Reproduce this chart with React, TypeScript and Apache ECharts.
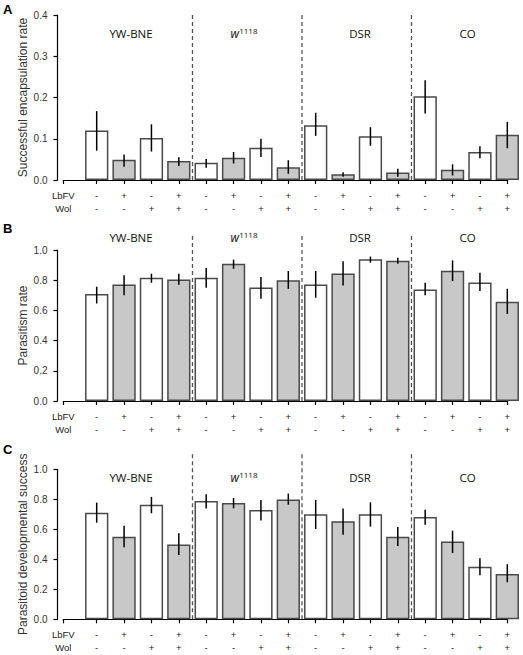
import React, { useEffect, useRef } from "react";
import * as echarts from "echarts";

// ---- data ----
const lbfv = ["-", "+", "-", "+", "-", "+", "-", "+", "-", "+", "-", "+", "-", "+", "-", "+"];
const wol = ["-", "-", "+", "+", "-", "-", "+", "+", "-", "-", "+", "+", "-", "-", "+", "+"];
const groups = ["YW-BNE", "w1118", "DSR", "CO"];
const separators = [3.5, 7.5, 11.5];

const encapMean = [0.12, 0.049, 0.102, 0.046, 0.042, 0.054, 0.078, 0.031, 0.133, 0.014, 0.106, 0.018, 0.203, 0.025, 0.068, 0.11];
const encapLow = [0.071, 0.032, 0.069, 0.034, 0.03, 0.04, 0.056, 0.015, 0.107, 0.008, 0.083, 0.008, 0.161, 0.011, 0.053, 0.077];
const encapHigh = [0.167, 0.062, 0.135, 0.055, 0.051, 0.068, 0.1, 0.048, 0.163, 0.019, 0.128, 0.027, 0.242, 0.038, 0.082, 0.141];

const parasMean = [0.708, 0.772, 0.816, 0.805, 0.816, 0.909, 0.752, 0.799, 0.772, 0.845, 0.938, 0.929, 0.739, 0.863, 0.785, 0.657];
const parasLow = [0.646, 0.701, 0.783, 0.77, 0.75, 0.876, 0.677, 0.743, 0.684, 0.765, 0.916, 0.909, 0.701, 0.794, 0.728, 0.577];
const parasHigh = [0.757, 0.832, 0.843, 0.843, 0.881, 0.936, 0.821, 0.861, 0.861, 0.925, 0.956, 0.949, 0.783, 0.931, 0.85, 0.743];

const devMean = [0.711, 0.551, 0.764, 0.498, 0.789, 0.776, 0.729, 0.798, 0.7, 0.653, 0.7, 0.551, 0.682, 0.518, 0.351, 0.302];
const devLow = [0.644, 0.48, 0.707, 0.429, 0.738, 0.74, 0.658, 0.764, 0.602, 0.564, 0.618, 0.489, 0.631, 0.442, 0.293, 0.247];
const devHigh = [0.778, 0.624, 0.816, 0.573, 0.833, 0.809, 0.796, 0.838, 0.796, 0.738, 0.78, 0.616, 0.731, 0.591, 0.407, 0.367];

// ---- layout ----
const W = 523;
const H = 655;
const X_MIN = -1.22;
const X_MAX = 15;
const groupLabelX = [131, 244, 360, 467.5];

const panels = [
  { letter: "A", letterY: 3, title: "Successful encapsulation rate", top: 15, height: 165, max: 0.4, interval: 0.1, sepTop: 0.405, labelY: 33, mean: encapMean, low: encapLow, high: encapHigh },
  { letter: "B", letterY: 222, title: "Parasitism rate", top: 250, height: 151, max: 1.0, interval: 0.2, sepTop: 1.113, labelY: 237, mean: parasMean, low: parasLow, high: parasHigh },
  { letter: "C", letterY: 443, title: "Parasitoid developmental success", top: 469.3, height: 150, max: 1.0, interval: 0.2, sepTop: 1.109, labelY: 477, mean: devMean, low: devLow, high: devHigh },
];

const FONT = "Liberation Sans, Arial, sans-serif";
const GROUP_FONT = "Open Sans, Noto Sans, sans-serif";
const WHITE = "#ffffff";
const GRAY = "#c8c8c8";

export default function App() {
  const ref = useRef<HTMLDivElement>(null);

  useEffect(() => {
    if (!ref.current) return;
    const chart = echarts.init(ref.current, null, { renderer: "svg" });

    const tickValues = [X_MIN, ...lbfv.map((_, i) => i)];

    const grid: any[] = [];
    const xAxis: any[] = [];
    const yAxis: any[] = [];
    const series: any[] = [];
    const graphic: any[] = [];

    panels.forEach((p, k) => {
      grid.push({ left: 63.3, right: W - 507.3, top: p.top, height: p.height, containLabel: false });
      xAxis.push({
        type: "value",
        gridIndex: k,
        min: X_MIN,
        max: X_MAX,
        splitLine: { show: false },
        axisLine: { show: true, onZero: false, lineStyle: { color: "#000", width: 1.2 } },
        axisTick: { show: true, length: 4, customValues: tickValues, lineStyle: { color: "#000", width: 1.2 } },
        axisLabel: {
          show: true,
          customValues: tickValues,
          margin: 9,
          fontFamily: FONT,
          fontSize: 9.5,
          lineHeight: 13,
          color: "#222",
          formatter: (v: number) => {
            if (v < -0.5) return "LbFV\nWol";
            const i = Math.round(v);
            return `${lbfv[i]}\n${wol[i]}`;
          },
        },
      });
      yAxis.push({
        type: "value",
        gridIndex: k,
        min: 0,
        max: p.max,
        interval: p.interval,
        offset: 5.8,
        splitLine: { show: false },
        axisLine: { show: true, onZero: false, lineStyle: { color: "#000", width: 1.2 } },
        axisTick: { show: true, length: 4, lineStyle: { color: "#000", width: 1.2 } },
        axisLabel: {
          margin: 10,
          fontFamily: FONT,
          fontSize: 10,
          color: "#333",
          formatter: (v: number) => v.toFixed(1),
        },
        name: p.title,
        nameLocation: "middle",
        nameGap: 29,
        nameMoveOverlap: false,
        nameTextStyle: { fontFamily: FONT, fontSize: 12, color: "#333" },
      });

      series.push({
        type: "bar",
        xAxisIndex: k,
        yAxisIndex: k,
        barWidth: 23.3,
        clip: false,
        data: p.mean.map((v, i) => ({
          value: [i, v],
          itemStyle: {
            color: lbfv[i] === "+" ? GRAY : WHITE,
            borderColor: "#4a4a4a",
            borderWidth: 1.5,
          },
        })),
        z: 2,
      });

      const lows = p.low;
      const highs = p.high;
      series.push({
        type: "custom",
        xAxisIndex: k,
        yAxisIndex: k,
        clip: false,
        z: 4,
        encode: { x: 0, y: 1 },
        data: lows.map((l, i) => [i, l]),
        renderItem: (params: any, api: any) => {
          const i = params.dataIndex;
          const a = api.coord([i, lows[i]]);
          const b = api.coord([i, highs[i]]);
          return {
            type: "line",
            shape: { x1: a[0], y1: a[1], x2: b[0], y2: b[1] },
            style: { stroke: "#000", lineWidth: 1.5 },
          };
        },
      });

      const sepTop = p.sepTop;
      series.push({
        type: "custom",
        xAxisIndex: k,
        yAxisIndex: k,
        clip: false,
        z: 3,
        encode: { x: 0, y: 1 },
        data: separators.map((s) => [s, 0]),
        renderItem: (params: any, api: any) => {
          const s = separators[params.dataIndex];
          const a = api.coord([s, 0]);
          const b = api.coord([s, sepTop]);
          return {
            type: "line",
            shape: { x1: a[0], y1: a[1], x2: b[0], y2: b[1] },
            style: { stroke: "#555", lineWidth: 1.3, lineDash: [4, 3] },
          };
        },
      });

      graphic.push({
        type: "text",
        left: 3,
        top: p.letterY,
        style: { text: p.letter, font: `bold 13px ${FONT}`, fill: "#000" },
      });

      groups.forEach((g, gi) => {
        const isW = g === "w1118";
        graphic.push({
          type: "text",
          x: groupLabelX[gi],
          y: p.labelY,
          style: isW
            ? {
                text: "{i|w}{s|1118}",
                align: "center",
                verticalAlign: "middle",
                rich: {
                  i: { fontFamily: GROUP_FONT, fontSize: 12, fontStyle: "italic", fill: "#111" },
                  s: { fontFamily: GROUP_FONT, fontSize: 8, fill: "#111", verticalAlign: "top", padding: [0, 0, 6, 0] },
                },
              }
            : {
                text: g,
                align: "center",
                verticalAlign: "middle",
                fontFamily: GROUP_FONT,
                fontSize: 11.5,
                fill: "#111",
              },
        });
      });
    });

    chart.setOption({
      animation: false,
      backgroundColor: "#ffffff",
      grid,
      xAxis,
      yAxis,
      series,
      graphic,
    });

    return () => chart.dispose();
  }, []);

  return (
    <div
      ref={ref}
      style={{ position: "fixed", left: 0, top: 0, width: W, height: H }}
    />
  );
}
